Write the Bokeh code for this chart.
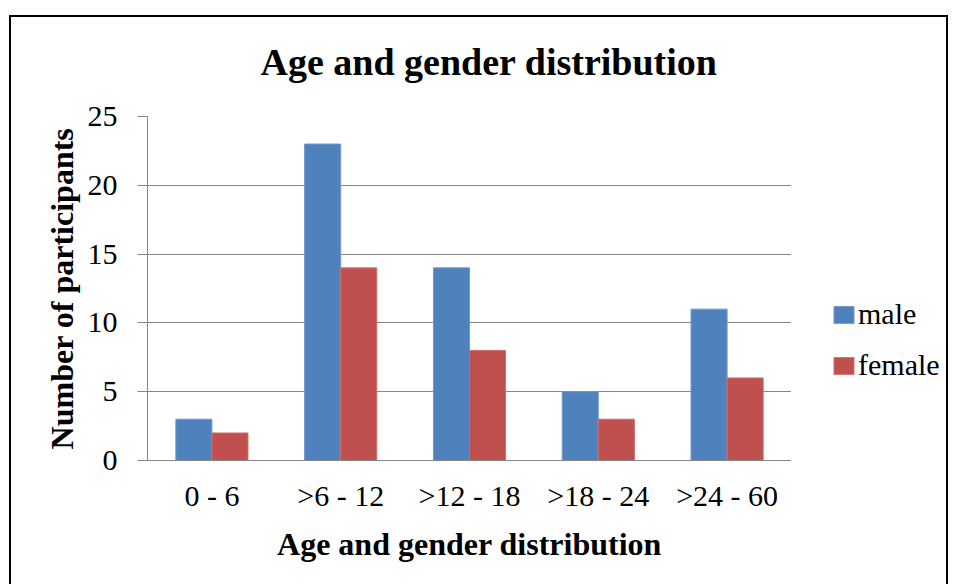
from bokeh.plotting import figure
from bokeh.layouts import row
from bokeh.models import ColumnDataSource, Legend, LegendItem, SingleIntervalTicker, Range1d
from bokeh.transform import dodge
from bokeh.embed import file_html
from bokeh.resources import INLINE

categories = ["0 - 6", ">6 - 12", ">12 - 18", ">18 - 24", ">24 - 60"]
male = [3, 23, 14, 5, 11]
female = [2, 14, 8, 3, 6]
y_max = 25
y_step = 5

src = ColumnDataSource(dict(cat=categories, male=male, female=female))

FONT = "Liberation Serif"
GRAY = "#868686"
BLUE = "#4F81BD"
RED = "#C0504D"

p = figure(x_range=categories, y_range=Range1d(0, y_max), width=791, height=584,
           output_backend="svg", toolbar_location=None,
           min_border_left=147, min_border_right=0, min_border_top=116, min_border_bottom=124)
p.border_fill_color = None
p.styles = {
    "background-image": "linear-gradient(#000,#000), linear-gradient(#000,#000)",
    "background-size": "782px 2px, 2px 600px",
    "background-position": "9px 15px, 9px 15px",
    "background-repeat": "no-repeat",
}

r1 = p.vbar(x=dodge("cat", -0.14, range=p.x_range), top="male", width=0.28, source=src,
            fill_color=BLUE, line_color="#6F97CB", line_width=1)
r2 = p.vbar(x=dodge("cat", 0.14, range=p.x_range), top="female", width=0.28, source=src,
            fill_color=RED, line_color="#CC6E6B", line_width=1)

p.title.text = "Age and gender distribution"
p.title.text_font = FONT
p.title.text_font_size = "38px"
p.title.text_font_style = "bold"
p.title.text_color = "black"
p.title.align = "left"
p.title.offset = 113
p.title.standoff = 68

p.outline_line_color = None
p.xgrid.grid_line_color = None
p.ygrid.grid_line_color = GRAY
p.ygrid.grid_line_width = 1

p.yaxis.ticker = SingleIntervalTicker(interval=y_step)
p.yaxis.minor_tick_line_color = None
p.yaxis.major_tick_in = 0
p.yaxis.major_tick_out = 10
p.yaxis.major_tick_line_color = GRAY
p.yaxis.axis_line_color = GRAY
p.yaxis.major_label_text_font = FONT
p.yaxis.major_label_text_font_size = "30px"
p.yaxis.major_label_text_color = "black"
p.yaxis.major_label_standoff = 20
p.yaxis.axis_label = "Number of participants"
p.yaxis.axis_label_text_font = FONT
p.yaxis.axis_label_text_font_size = "32px"
p.yaxis.axis_label_text_font_style = "bold"
p.yaxis.axis_label_text_color = "black"
p.yaxis.axis_label_standoff = 5

p.xaxis.major_tick_line_color = None
p.xaxis.minor_tick_line_color = None
p.xaxis.axis_line_color = GRAY
p.xaxis.major_label_text_font = FONT
p.xaxis.major_label_text_font_size = "30px"
p.xaxis.major_label_text_color = "black"
p.xaxis.major_label_standoff = 12
p.xaxis.axis_label = "Age and gender distribution"
p.xaxis.axis_label_text_font = FONT
p.xaxis.axis_label_text_font_size = "32px"
p.xaxis.axis_label_text_font_style = "bold"
p.xaxis.axis_label_text_color = "black"
p.xaxis.axis_label_standoff = 11

# legend panel (separate figure to the right of the plot area)
p2 = figure(x_range=categories, y_range=Range1d(0, y_max), width=159, height=584,
            output_backend="svg", toolbar_location=None,
            x_axis_location=None, y_axis_location=None, min_border=0)
p2.border_fill_color = None
p2.background_fill_color = None
p2.outline_line_color = None
p2.grid.grid_line_color = None
p2.styles = {
    "background-image": "linear-gradient(#000,#000), linear-gradient(#000,#000)",
    "background-size": "157px 2px, 2px 600px",
    "background-position": "0px 15px, 155px 15px",
    "background-repeat": "no-repeat",
}
l1 = p2.vbar(x="cat", top="male", width=0.28, source=src, fill_color=BLUE,
             line_color="#6F97CB", visible=False)
l2 = p2.vbar(x="cat", top="female", width=0.28, source=src, fill_color=RED,
             line_color="#CC6E6B", visible=False)

legend = Legend(items=[LegendItem(label="male", renderers=[l1]),
                       LegendItem(label="female", renderers=[l2])],
                location=(40, 78))
legend.label_text_font = FONT
legend.label_text_font_size = "30px"
legend.label_text_color = "black"
legend.glyph_width = 25
legend.glyph_height = 21
legend.label_standoff = 2
legend.spacing = 17
legend.padding = 0
legend.margin = 0
legend.border_line_color = None
legend.background_fill_alpha = 0
legend.inactive_fill_alpha = 0
legend.click_policy = "none"
p2.add_layout(legend, "center")

layout = row(p, p2, spacing=0)
open("out.html", "w").write(file_html(layout, INLINE))
